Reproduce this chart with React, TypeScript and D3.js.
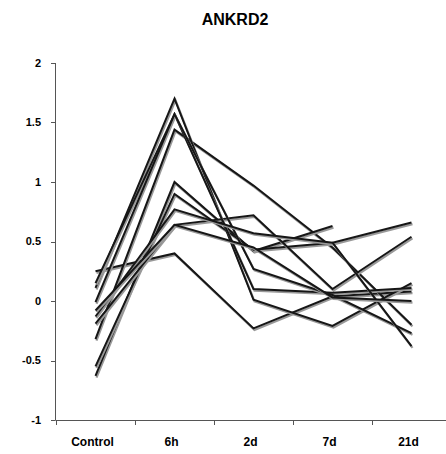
import React, { useEffect, useRef } from 'react';
import * as d3 from 'd3';

const categories = ['Control', '6h', '2d', '7d', '21d'];
const yTicks = [-1, -0.5, 0, 0.5, 1, 1.5, 2];

// one array per sample, values at Control, 6h, 2d, 7d, 21d (null = missing)
const sampleA = [0.25, 0.4, -0.23, 0.04, 0.08];
const sampleB = [-0.32, 1.44, 0.97, 0.45, -0.2];
const sampleC = [-0.63, 1.0, 0.42, 0.63, null];
const sampleD = [-0.55, 0.9, 0.43, 0.49, 0.66];
const sampleE = [-0.19, 0.64, 0.72, 0.1, 0.54];
const sampleF = [0.11, 1.7, 0.01, -0.21, 0.15];
const sampleG = [0.15, 1.57, 0.1, 0.07, 0.11];
const sampleH = [-0.01, 1.57, 0.27, 0.05, -0.27];
const sampleI = [-0.13, 0.77, 0.57, 0.49, -0.38];
const sampleJ = [-0.08, 0.64, 0.45, 0.03, 0.0];

const samples = [sampleA, sampleB, sampleC, sampleD, sampleE, sampleF, sampleG, sampleH, sampleI, sampleJ];

const App = () => {
  const ref = useRef<SVGSVGElement>(null);

  useEffect(() => {
    const svg = d3.select(ref.current);
    svg.selectAll('*').remove();

    const x = d3.scaleBand().domain(categories).range([56, 451]);
    const y = d3.scaleLinear().domain([-1, 2]).range([420, 63]);
    const font = 'Liberation Sans, Arial, sans-serif';

    svg.append('text')
      .attr('x', 235).attr('y', 25)
      .attr('text-anchor', 'middle')
      .attr('font-family', font).attr('font-weight', 'bold').attr('font-size', 16)
      .text('ANKRD2');

    // y axis
    const yAxis = svg.append('g');
    yAxis.append('line')
      .attr('x1', 55.5).attr('x2', 55.5).attr('y1', y(2)).attr('y2', y(-1))
      .attr('stroke', '#555').attr('stroke-width', 1);
    yTicks.forEach(t => {
      yAxis.append('line')
        .attr('x1', 51).attr('x2', 55.5).attr('y1', Math.round(y(t)) + 0.5).attr('y2', Math.round(y(t)) + 0.5)
        .attr('stroke', '#555');
      yAxis.append('text')
        .attr('x', 41).attr('y', y(t)).attr('dy', '0.35em')
        .attr('text-anchor', 'end')
        .attr('font-family', font).attr('font-weight', 'bold').attr('font-size', 11)
        .text(String(t));
    });

    // x axis
    const xAxis = svg.append('g');
    xAxis.append('line')
      .attr('x1', 55.5).attr('x2', 451).attr('y1', 420.5).attr('y2', 420.5)
      .attr('stroke', '#555');
    categories.concat(['end']).forEach((c, i) => {
      const px = Math.round(56 + i * x.bandwidth()) + 0.5;
      xAxis.append('line')
        .attr('x1', px).attr('x2', px).attr('y1', 420.5).attr('y2', 425)
        .attr('stroke', '#555');
    });
    categories.forEach(c => {
      xAxis.append('text')
        .attr('x', (x(c) as number) + x.bandwidth() / 2 - 3).attr('y', 446)
        .attr('text-anchor', 'middle')
        .attr('font-family', font).attr('font-weight', 'bold').attr('font-size', 12)
        .text(c);
    });

    const line = d3.line<number | null>()
      .defined(d => d !== null)
      .x((d, i) => (x(categories[i]) as number) + x.bandwidth() / 2)
      .y(d => y(d as number));

    const lines = svg.append('g');
    samples.forEach(s => {
      lines.append('path')
        .attr('d', line(s))
        .attr('transform', 'translate(1,1.6)')
        .attr('fill', 'none').attr('stroke', '#999').attr('stroke-width', 2.2);
      lines.append('path')
        .attr('d', line(s))
        .attr('fill', 'none').attr('stroke', '#161616').attr('stroke-width', 2);
    });
  }, []);

  return <svg ref={ref} width={446} height={454} style={{ position: 'absolute', left: 0, top: 0 }} />;
};

export default App;
